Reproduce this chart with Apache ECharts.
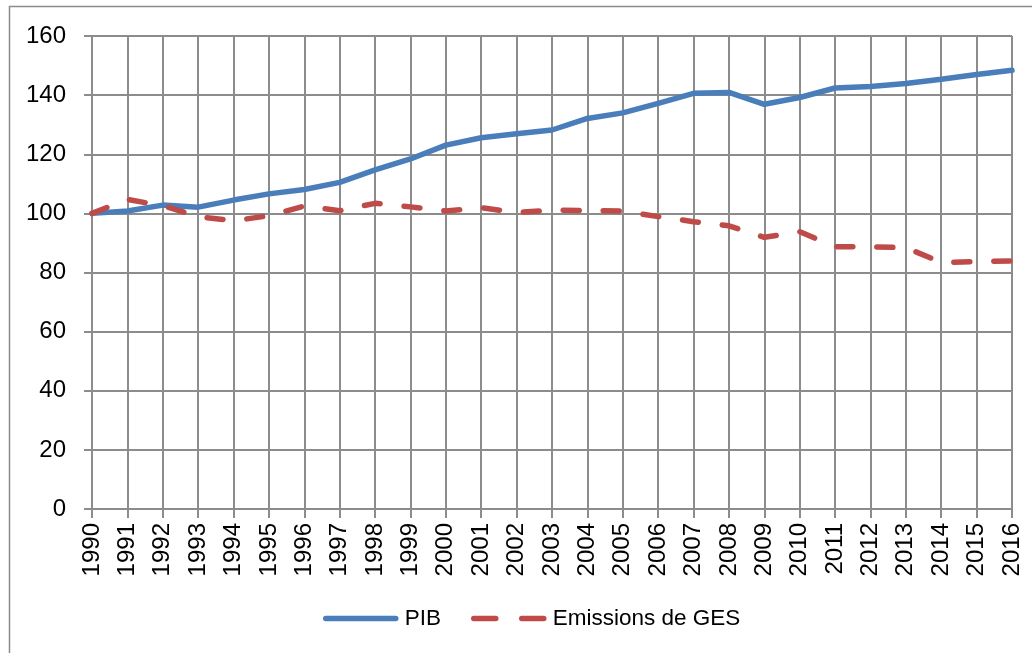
<!DOCTYPE html>
<html>
<head>
<meta charset="utf-8">
<script src="https://cdn.jsdelivr.net/npm/echarts@6/dist/echarts.min.js"></script>
<style>
html, body { margin: 0; padding: 0; background: #fff; }
#chart { width: 1032px; height: 653px; }
</style>
</head>
<body>
<div id="chart"></div>
<script>
var years = ['1990','1991','1992','1993','1994','1995','1996','1997','1998','1999',
    '2000','2001','2002','2003','2004','2005','2006','2007','2008','2009',
    '2010','2011','2012','2013','2014','2015','2016'];
var pib = [100, 100.8, 102.8, 102.1, 104.5, 106.6, 108.1, 110.5, 114.7, 118.4,
    123.1, 125.6, 126.9, 128.2, 132.1, 134.0, 137.2, 140.6, 140.9, 136.9,
    139.2, 142.4, 142.9, 143.9, 145.4, 147.0, 148.4];
var ges = [100, 104.7, 102.6, 98.9, 97.5, 99.2, 102.5, 100.9, 103.4, 102.2,
    100.8, 101.9, 100.3, 101.1, 100.9, 100.8, 98.9, 97.2, 95.8, 91.9,
    93.8, 88.7, 88.7, 88.4, 83.4, 83.7, 83.9];

var gridColor = '#8c8c8c';
var chart = echarts.init(document.getElementById('chart'));
var option = {
    backgroundColor: '#fff',
    animation: false,
    graphic: [{
        type: 'rect',
        shape: { x: 9.5, y: 6.5, width: 1040, height: 680 },
        style: { fill: 'none', stroke: '#8c8c8c', lineWidth: 1.5 },
        silent: true
    }],
    grid: { left: 92, right: 20, top: 36, bottom: 144 },
    legend: {
        bottom: 18,
        left: 318,
        itemWidth: 70,
        itemHeight: 14,
        itemGap: 30,
        itemStyle: { opacity: 0 },
        lineStyle: { width: 5.5 },
        textStyle: { fontFamily: 'Liberation Sans', fontSize: 22.5, color: '#000', padding: [0, 0, 0, 4] },
        data: ['PIB', { name: 'Emissions de GES', lineStyle: { type: [22, 26], width: 5.5 } }]
    },
    xAxis: {
        type: 'category',
        data: years,
        boundaryGap: false,
        axisLine: { lineStyle: { color: gridColor, width: 2 } },
        axisTick: { show: true, length: 9, alignWithLabel: true, lineStyle: { color: gridColor, width: 2 } },
        splitLine: { show: true, lineStyle: { color: gridColor, width: 2 } },
        axisLabel: { rotate: 90, margin: 14, color: '#000', fontFamily: 'Liberation Sans', fontSize: 24, interval: 0 }
    },
    yAxis: {
        type: 'value',
        min: 0,
        max: 160,
        interval: 20,
        axisLine: { show: true, lineStyle: { color: gridColor, width: 2 } },
        axisTick: { show: true, length: 8, lineStyle: { color: gridColor, width: 2 } },
        splitLine: { show: true, lineStyle: { color: gridColor, width: 2 } },
        axisLabel: { margin: 26, color: '#000', fontFamily: 'Liberation Sans', fontSize: 24 }
    },
    series: [{
        name: 'PIB',
        type: 'line',
        data: pib,
        symbol: 'none',
        color: '#4a7ebb',
        lineStyle: { color: '#4a7ebb', width: 5.5, cap: 'round' }
    }, {
        name: 'Emissions de GES',
        type: 'line',
        data: ges,
        symbol: 'none',
        color: '#be4b48',
        lineStyle: { color: '#be4b48', width: 5.5, type: [16, 24], cap: 'round' }
    }]
};
chart.setOption(option);
</script>
</body>
</html>
